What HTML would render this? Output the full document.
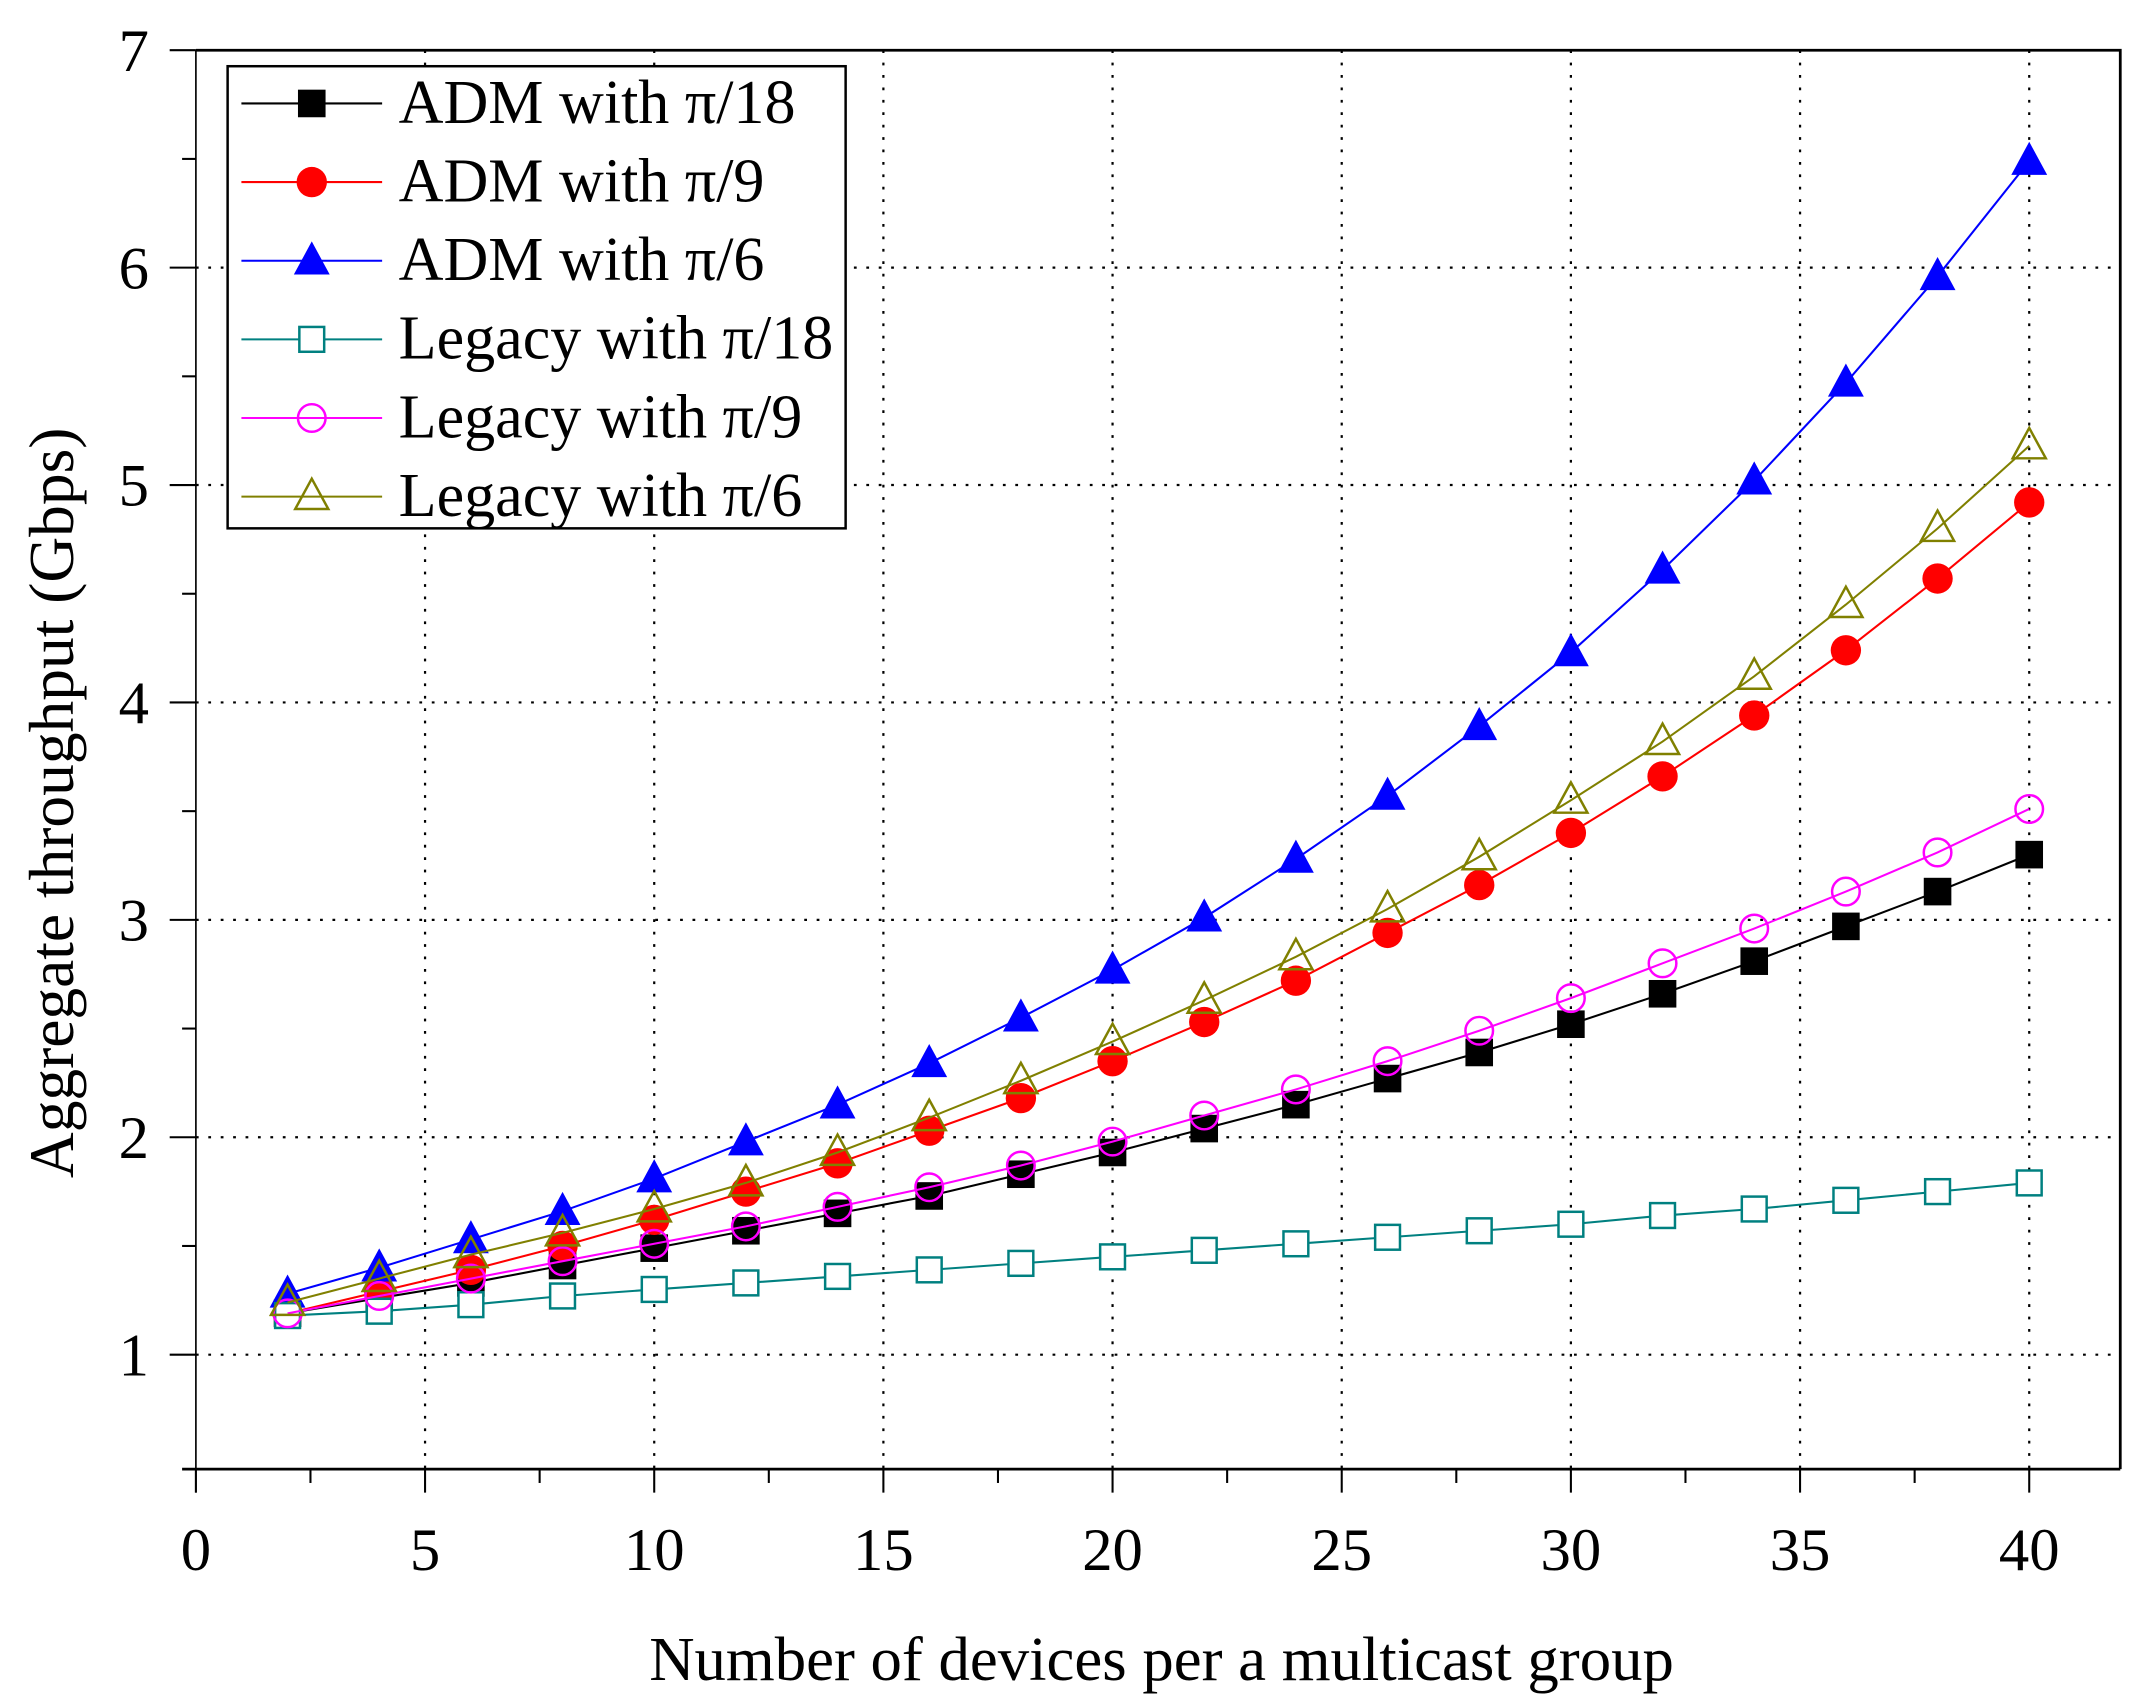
<!DOCTYPE html>
<html><head><meta charset="utf-8"><style>
html,body{margin:0;padding:0;background:#fff;}
svg{display:block;font-family:"Liberation Serif",serif;}
</style></head><body>
<svg id="chart" width="2152" height="1703" viewBox="0 0 1560 1234.5" preserveAspectRatio="none" xmlns="http://www.w3.org/2000/svg">
<g id="grid"></g>
<g id="axes"></g>
<g id="series"></g>
<g id="legend"></g>
</svg>
<script>
const xs = [2,4,6,8,10,12,14,16,18,20,22,24,26,28,30,32,34,36,38,40];
const admPi18 = [1.19,1.26,1.33,1.41,1.49,1.57,1.65,1.73,1.83,1.93,2.04,2.15,2.27,2.39,2.52,2.66,2.81,2.97,3.13,3.30];
const admPi9 = [1.19,1.29,1.39,1.50,1.62,1.75,1.88,2.03,2.18,2.35,2.53,2.72,2.94,3.16,3.40,3.66,3.94,4.24,4.57,4.92];
const admPi6 = [1.28,1.40,1.53,1.66,1.81,1.98,2.15,2.34,2.55,2.77,3.01,3.28,3.57,3.89,4.23,4.61,5.02,5.47,5.96,6.49];
const legPi18 = [1.18,1.20,1.23,1.27,1.30,1.33,1.36,1.39,1.42,1.45,1.48,1.51,1.54,1.57,1.60,1.64,1.67,1.71,1.75,1.79];
const legPi9 = [1.19,1.27,1.35,1.43,1.51,1.59,1.68,1.77,1.87,1.98,2.10,2.22,2.35,2.49,2.64,2.80,2.96,3.13,3.31,3.51];
const legPi6 = [1.24,1.35,1.46,1.56,1.67,1.79,1.93,2.09,2.26,2.44,2.63,2.83,3.05,3.29,3.55,3.82,4.12,4.45,4.80,5.18];
const xTicks = [0,5,10,15,20,25,30,35,40];
const yTicks = [1,2,3,4,5,6,7];
const seriesNames = ["ADM with π/18","ADM with π/9","ADM with π/6","Legacy with π/18","Legacy with π/9","Legacy with π/6"];

const NS="http://www.w3.org/2000/svg";
const L=142,R=1537,T=36.4,B=1065;
const X=v=>142+v*(1471-142)/40;
const Y=v=>T+(7-v)*157.6;
function mk(tag,attrs,parent){const e=document.createElementNS(NS,tag);for(const k in attrs)e.setAttribute(k,attrs[k]);parent.appendChild(e);return e;}
const grid=document.getElementById('grid'),axes=document.getElementById('axes'),ser=document.getElementById('series'),leg=document.getElementById('legend');

xTicks.forEach(t=>{
  if(t>0){const g=mk('line',{x1:X(t),x2:X(t),y1:T,y2:B,stroke:'#000','stroke-width':1.6,'stroke-dasharray':'2,7'},grid);
  
  }
  const tk=mk('line',{x1:X(t),x2:X(t),y1:B,y2:B+17,stroke:'#000','stroke-width':1.5},axes);
  
  
  const tx=mk('text',{x:X(t),y:1138,'font-size':44,'text-anchor':'middle'},axes);tx.textContent=t;
  
  
  if(t<40){const m=mk('line',{x1:X(t+2.5),x2:X(t+2.5),y1:B,y2:B+10,stroke:'#000','stroke-width':1.5},axes);
  
  }
});
yTicks.forEach(t=>{
  if(t<7){const g=mk('line',{x1:L,x2:R,y1:Y(t),y2:Y(t),stroke:'#000','stroke-width':1.6,'stroke-dasharray':'2,7'},grid);
  
  }
  const tk=mk('line',{x1:L-19,x2:L,y1:Y(t),y2:Y(t),stroke:'#000','stroke-width':1.5},axes);
  
  
  const tx=mk('text',{x:108,y:Y(t)+15,'font-size':44,'text-anchor':'end'},axes);tx.textContent=t;
  
  
  if(t>1){const m=mk('line',{x1:L-10,x2:L,y1:Y(t-0.5),y2:Y(t-0.5),stroke:'#000','stroke-width':1.5},axes);
  
  }
});
const fr=mk('path',{d:`M${L},${T}H${R}V${B}`,fill:'none',stroke:'#000','stroke-width':2},axes);


const xa=mk('line',{x1:L-10,x2:R,y1:B,y2:B,stroke:'#000','stroke-width':2},axes);


const ya=mk('line',{x1:L,x2:L,y1:T,y2:B+17,stroke:'#000','stroke-width':1.2},axes);


const xt=mk('text',{x:842,y:1218,'font-size':45.5,'text-anchor':'middle'},axes);xt.textContent='Number of devices per a multicast group';


const yt=mk('text',{x:0,y:0,'font-size':46,'text-anchor':'middle',transform:'translate(53,582) rotate(-90)'},axes);yt.textContent='Aggregate throughput (Gbps)';



function marker(type,color,cx,cy,parent){
  if(type==='sq') return mk('rect',{x:cx-10,y:cy-10,width:20,height:20,fill:color},parent);
  if(type==='osq') return mk('rect',{x:cx-9,y:cy-9,width:18,height:18,fill:'#fff',stroke:color,'stroke-width':1.8},parent);
  if(type==='ci') return mk('circle',{cx:cx,cy:cy,r:11,fill:color},parent);
  if(type==='oci') return mk('circle',{cx:cx,cy:cy,r:10,fill:'#fff','fill-opacity':0,stroke:color,'stroke-width':1.8},parent);
  if(type==='tr') return mk('path',{d:`M${cx},${cy-14}L${cx+13},${cy+10}L${cx-13},${cy+10}Z`,fill:color},parent);
  return mk('path',{d:`M${cx},${cy-13}L${cx+12},${cy+9}L${cx-12},${cy+9}Z`,fill:'none',stroke:color,'stroke-width':1.8},parent);
}
const allSeries=[admPi18,admPi9,admPi6,legPi18,legPi9,legPi6];
const colors=['#000','#f00','#00f','#008080','#f0f','#808000'];
const types=['sq','ci','tr','osq','oci','otr'];
const keys=['adm-pi18','adm-pi9','adm-pi6','legacy-pi18','legacy-pi9','legacy-pi6'];
allSeries.forEach((s,i)=>{
  const g=mk('g',{},ser);
  
  
  const ln=mk('polyline',{points:s.map((v,j)=>X(xs[j])+','+Y(v)).join(' '),fill:'none',stroke:colors[i],'stroke-width':1.5},g);
  
  
  s.forEach((v,j)=>{const m=marker(types[i],colors[i],X(xs[j]),Y(v),g);
    
    });
});
const bg=mk('rect',{x:165,y:48,width:448,height:335,fill:'#fff',stroke:'#000','stroke-width':1.8},leg);


allSeries.forEach((s,i)=>{
  const ly=75+i*57;
  const ll=mk('line',{x1:175,x2:277,y1:ly,y2:ly,stroke:colors[i],'stroke-width':1.5},leg);
  
  
  const lm=marker(types[i],colors[i],226,ly,leg);
  
  
  const lt=mk('text',{x:289,y:ly+14,'font-size':45,textLength:0},leg);lt.removeAttribute('textLength');lt.textContent=seriesNames[i];
  
  
});
</script>
</body></html>
